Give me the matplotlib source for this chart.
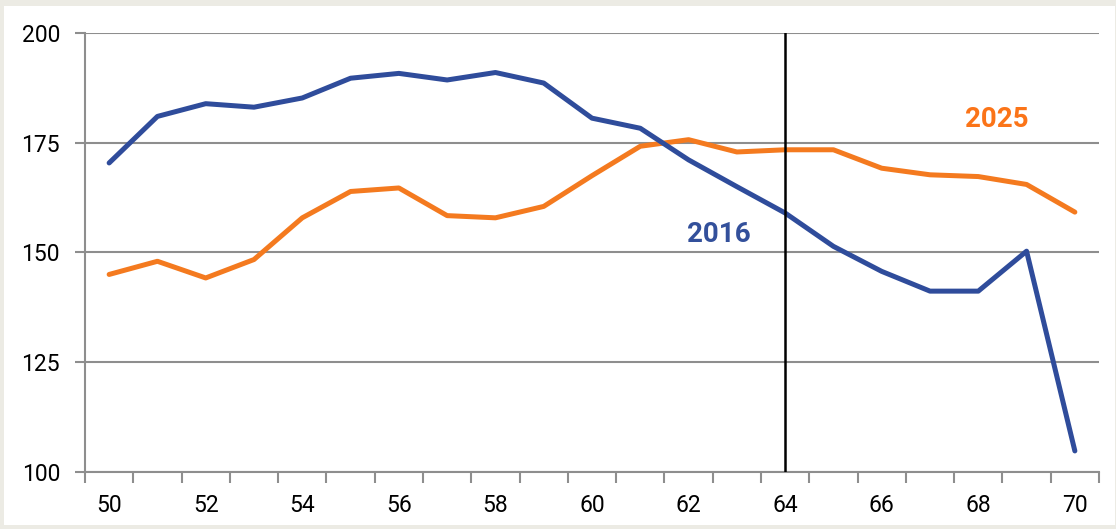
import matplotlib
matplotlib.use("Agg")

import matplotlib.pyplot as plt
import matplotlib.patches as patches

# ======================
# Data
# ======================

ages = list(range(50, 71))

series_2016 = [170.4, 181.0, 183.9, 183.1, 185.2, 189.7, 190.8, 189.3, 191.0, 188.6,
               180.6, 178.3, 171.1, 165.0, 159.0, 151.4, 145.7, 141.2, 141.2, 150.3, 104.8]

series_2025 = [145.0, 148.0, 144.2, 148.4, 157.9, 163.9, 164.7, 158.4, 157.9, 160.5,
               167.5, 174.2, 175.7, 172.9, 173.4, 173.4, 169.2, 167.7, 167.3, 165.5, 159.2]

y_ticks = [100, 125, 150, 175, 200]
x_labels = list(range(50, 71, 2))
marker_age = 64

BLUE = "#2f4c9b"
ORANGE = "#f47a1f"
GRID = "#8e8e8e"

plt.rcParams["font.family"] = ["Roboto", "DejaVu Sans"]

# ======================
# Figure & frame
# ======================

fig = plt.figure(figsize=(11.16, 5.29), dpi=100, facecolor="#ecebe4")
fig.add_artist(patches.Rectangle((4 / 1116, 4 / 529), 1111 / 1116, 519 / 529,
                                 transform=fig.transFigure, facecolor="white",
                                 edgecolor="none", zorder=0))

ax = fig.add_axes([85 / 1116, 1 - 472 / 529, 1014 / 1116, 439 / 529])
ax.set_facecolor("none")

# ======================
# Lines
# ======================

ax.plot(ages, series_2016, color=BLUE, lw=3.6, solid_capstyle="round",
        solid_joinstyle="round", zorder=4)
ax.plot(ages, series_2025, color=ORANGE, lw=3.6, solid_capstyle="round",
        solid_joinstyle="round", zorder=3)

ax.axvline(marker_age, color="black", lw=1.8, zorder=5)

ax.text(62.63, 154.0, "2016", color="#33509b", fontsize=20,
        weight="bold", ha="center", va="center")
ax.text(68.38, 180.2, "2025", color="#fb7418", fontsize=20,
        weight="bold", ha="center", va="center")

# ======================
# Axes styling
# ======================

ax.set_xlim(49.5, 70.5)
ax.set_ylim(100, 200)

ax.set_yticks(y_ticks)
ax.set_yticklabels([str(v) for v in y_ticks])
ax.yaxis.grid(True, color=GRID, lw=1.5, zorder=1)
ax.set_axisbelow(True)

ax.set_xticks(x_labels)
ax.set_xticklabels([str(v) for v in x_labels])
ax.set_xticks([a - 0.5 for a in ages] + [70.5], minor=True)

ax.tick_params(axis="y", length=7, width=1.5, color=GRID, pad=11,
               labelsize=16.5, labelcolor="black")
ax.tick_params(axis="x", which="major", length=0, pad=16,
               labelsize=16.5, labelcolor="black")
ax.tick_params(axis="x", which="minor", length=8, width=1.5, color=GRID)

for side in ["top", "right"]:
    ax.spines[side].set_visible(False)
for side in ["left", "bottom"]:
    ax.spines[side].set_color(GRID)
    ax.spines[side].set_linewidth(1.5)

fig.savefig("out.png", dpi=100, facecolor=fig.get_facecolor())
plt.close(fig)
